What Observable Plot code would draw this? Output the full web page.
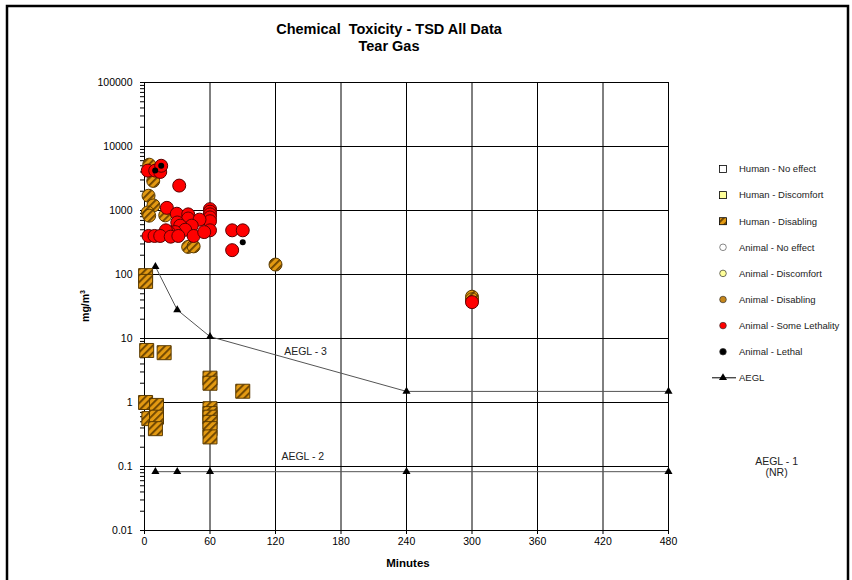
<!DOCTYPE html>
<html><head><meta charset="utf-8">
<script src="https://cdn.jsdelivr.net/npm/d3@7"></script>
<script src="https://cdn.jsdelivr.net/npm/@observablehq/plot@0.6"></script>
<style>
body{margin:0;background:#fff;}
#chart{width:852px;height:580px;overflow:hidden;}
</style></head><body><div id="chart"></div>
<script>
// ---- data (minutes, mg/m3) ----
const humanDisablingMin  = [1, 1, 2, 18, 60, 60, 90, 1, 11, 4, 11, 10, 60, 60, 60, 60, 60, 60];
const humanDisablingConc = [96, 78, 6.5, 6.0, 2.4, 2.0, 1.5, 1.0, 0.9, 0.56, 0.59, 0.39, 0.8, 0.67, 0.59, 0.49, 0.39, 0.29];

const animalDisablingMin  = [4.3, 8, 3.7, 8.2, 3, 4.3, 19, 40, 45, 120, 300, 300];
const animalDisablingConc = [5200, 2900, 1700, 1200, 930, 830, 840, 270, 275, 143, 45, 41];

const animalLethalityMin  = [3, 9.8, 14.4, 15.3, 31.8, 20.5, 29.6, 40, 40, 30, 60, 60, 60, 60, 60, 60, 50.4, 43.3, 32.7, 37.3, 28, 22, 19.6, 3.7, 9.2, 14.4, 24, 31, 45, 54.7, 80.3, 90, 80.3, 300];
const animalLethalityConc = [4200, 4200, 4000, 5000, 2450, 1100, 890, 870, 750, 650, 1050, 960, 870, 780, 680, 490, 720, 580, 580, 500, 460, 460, 490, 400, 400, 400, 390, 400, 400, 460, 490, 490, 240, 37];

const animalLethalMin  = [15.3, 9.8, 90];
const animalLethalConc = [5000, 4200, 320];

const aegl3Min  = [10, 30, 60, 240, 480];
const aegl3Conc = [133, 28, 10.7, 1.49, 1.49];
const aegl2Min  = [10, 30, 60, 240, 480];
const aegl2Conc = [0.083, 0.083, 0.083, 0.083, 0.083];

const aeglLabels    = ["AEGL - 3", "AEGL - 2", "AEGL - 1\n(NR)"];
const aeglLabelMin  = [147.5, 145, 579];
const aeglLabelConc = [6.3, 0.143, 0.1];

const yTicks = [0.01, 0.1, 1, 10, 100, 1000, 10000, 100000];
const xTicks = [0, 60, 120, 180, 240, 300, 360, 420, 480];

const legendLabels = ["Human - No effect", "Human - Discomfort", "Human - Disabling", "Animal - No effect",
  "Animal - Discomfort", "Animal - Disabling", "Animal - Some Lethality", "Animal - Lethal", "AEGL"];

// ---- build ----
const tbl = (t, c) => t.map((d, i) => ({t: d, c: c[i]}));
const minorTicks = yTicks.slice(0, -1).flatMap(d => [2,3,4,5,6,7,8,9].map(k => d * k));
const font = "'Liberation Sans', Arial, sans-serif";

const svg = Plot.plot({
  width: 852, height: 580,
  marginLeft: 144, marginRight: 184, marginTop: 82, marginBottom: 50,
  style: {fontFamily: font, fontSize: "10.5px", color: "#000", background: "#fff"},
  x: {domain: [0, 480]},
  y: {type: "log", domain: [0.01, 100000]},
  marks: [
    Plot.ruleY(yTicks, {stroke: "#000", strokeWidth: 1}),
    Plot.ruleX(xTicks, {stroke: "#000", strokeWidth: 1}),
    Plot.axisY(minorTicks, {tickSize: 4, tickFormat: () => "", label: null}),
    Plot.axisY(yTicks, {tickSize: 4, tickPadding: 8, tickFormat: d => String(d), label: null}),
    Plot.axisX(xTicks, {tickSize: 4, tickPadding: 3, label: null}),
    Plot.line(tbl(aegl3Min, aegl3Conc), {x: "t", y: "c", stroke: "#555", strokeWidth: 1}),
    Plot.line(tbl(aegl2Min, aegl2Conc), {x: "t", y: "c", stroke: "#555", strokeWidth: 1}),
    Plot.dot(tbl(aegl3Min, aegl3Conc), {x: "t", y: "c", symbol: "triangle", r: 3, fill: "#000"}),
    Plot.dot(tbl(aegl2Min, aegl2Conc), {x: "t", y: "c", symbol: "triangle", r: 3, fill: "#000"}),
    Plot.dot(tbl(humanDisablingMin, humanDisablingConc), {x: "t", y: "c", symbol: "square", r: 7.9,
      fill: "url(#hatch)", stroke: "#5b3b00", strokeWidth: 1}),
    Plot.dot(tbl(animalDisablingMin, animalDisablingConc), {x: "t", y: "c", r: 6.5,
      fill: "url(#hatch)", stroke: "#5b3b00", strokeWidth: 1}),
    Plot.dot(tbl(animalLethalityMin, animalLethalityConc), {x: "t", y: "c", r: 6.5,
      fill: "#ff0000", stroke: "#5a0000", strokeWidth: 1}),
    Plot.dot(tbl(animalLethalMin, animalLethalConc), {x: "t", y: "c", r: 3, fill: "#000"}),
    Plot.text(aeglLabels.map((s, i) => ({s, t: aeglLabelMin[i], c: aeglLabelConc[i]})),
      {x: "t", y: "c", text: "s", fill: "#222", fontSize: 10.5, lineHeight: 1.05})
  ]
});

const s = d3.select(svg);
// hatch pattern
const defs = s.insert("defs", ":first-child");
const pat = defs.append("pattern").attr("id", "hatch").attr("patternUnits", "userSpaceOnUse")
  .attr("width", 5).attr("height", 5).attr("patternTransform", "rotate(45)");
pat.append("rect").attr("width", 5).attr("height", 5).attr("fill", "#e39a12");
pat.append("rect").attr("width", 1.8).attr("height", 5).attr("fill", "#6b4300");

// outer border
s.append("rect").attr("x", 7).attr("y", 6).attr("width", 841).attr("height", 600)
  .attr("fill", "none").attr("stroke", "#000").attr("stroke-width", 2.5);

// titles
const tg = s.append("g").attr("font-family", font).attr("font-weight", "bold").attr("text-anchor", "middle").attr("fill", "#000");
tg.append("text").attr("x", 389).attr("y", 34).attr("font-size", 14.5).attr("xml:space", "preserve").text("Chemical  Toxicity - TSD All Data");
tg.append("text").attr("x", 389).attr("y", 51).attr("font-size", 14.5).text("Tear Gas");
tg.append("text").attr("x", 408).attr("y", 567).attr("font-size", 11.5).text("Minutes");
const yl = tg.append("text").attr("transform", "translate(89,306) rotate(-90)").attr("font-size", 10.5);
yl.append("tspan").text("mg/m");
yl.append("tspan").attr("font-size", 7).attr("dy", -4).text("3");

// legend
const lg = s.append("g").attr("font-family", font).attr("font-size", 9.5).attr("fill", "#222").attr("text-anchor", "start");
const ly0 = 169, ldy = 26.1, lx = 723;
legendLabels.forEach((lab, i) => {
  const y = ly0 + i * ldy;
  const g = lg.append("g");
  if (i < 3) {
    const fills = ["#fff", "#ffff99", "url(#hatch)"];
    g.append("rect").attr("x", lx - 3.5).attr("y", y - 3.5).attr("width", 7).attr("height", 7)
      .attr("fill", fills[i]).attr("stroke", "#000").attr("stroke-width", 0.8);
  } else if (i < 8) {
    const fills = ["#fff", "#ffff99", "#c6861a", "#ff0000", "#000"];
    g.append("circle").attr("cx", lx).attr("cy", y).attr("r", 3.3)
      .attr("fill", fills[i - 3]).attr("stroke", i === 3 ? "#555" : "#333").attr("stroke-width", 0.7);
  } else {
    g.append("line").attr("x1", lx - 11).attr("x2", lx + 13).attr("y1", y).attr("y2", y).attr("stroke", "#000");
    g.append("path").attr("d", d3.symbol(d3.symbolTriangle, 28)()).attr("transform", `translate(${lx},${y})`).attr("fill", "#000");
  }
  g.append("text").attr("x", lx + 16).attr("y", y).attr("dy", "0.35em").text(lab);
});

document.getElementById("chart").appendChild(svg);
</script>
</body></html>
